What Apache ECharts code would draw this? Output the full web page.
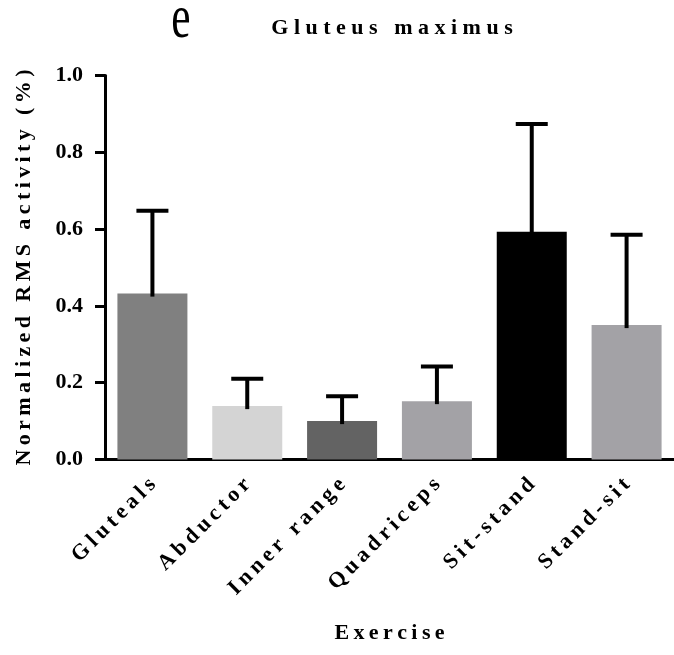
<!DOCTYPE html>
<html>
<head>
<meta charset="utf-8">
<script src="https://cdn.jsdelivr.net/npm/echarts@6/dist/echarts.min.js"></script>
<style>
  html, body { margin: 0; padding: 0; background: #fff; }
  #chart { width: 674px; height: 655px; }
</style>
</head>
<body>
<div id="chart"></div>
<script>
const categories = ["Gluteals", "Abductor", "Inner range", "Quadriceps", "Sit-stand", "Stand-sit"];
const means = [0.432, 0.139, 0.100, 0.152, 0.593, 0.350];
const sds = [0.216, 0.071, 0.065, 0.090, 0.281, 0.235];
const yTicks = [0, 0.2, 0.4, 0.6, 0.8, 1.0];
const barColors = ["#808080", "#d4d4d4", "#636363", "#a3a2a6", "#000000", "#a3a2a6"];

const FONT = "Liberation Serif";
// the reference text is spread out letter by letter
const spaced = (s, sep = "\u2009") => Array.from(s).join(sep);

const chart = echarts.init(document.getElementById("chart"));

chart.setOption({
  animation: false,
  backgroundColor: "#fff",
  graphic: [
    {
      type: "text",
      x: 181,
      y: 21,
      scaleX: 0.7,
      style: {
        text: "e",
        font: "normal 62px 'Liberation Serif'",
        fill: "#000",
        align: "center",
        verticalAlign: "middle",
      },
    },
    {
      type: "text",
      x: 392,
      y: 28,
      style: {
        text: spaced("Gluteus maximus", "\u2005"),
        font: `bold 22px '${FONT}'`,
        fill: "#000",
        align: "center",
        verticalAlign: "middle",
      },
    },
  ],
  grid: { left: 105, right: -5, top: 75.5, bottom: 195.5 },
  xAxis: {
    type: "category",
    data: categories,
    name: spaced("Exercise"),
    nameLocation: "middle",
    nameGap: 163,
    nameTextStyle: { fontFamily: FONT, fontWeight: "bold", fontSize: 22, color: "#000" },
    axisLine: { lineStyle: { color: "#000", width: 3 } },
    axisTick: { alignWithLabel: true, length: 10, lineStyle: { color: "#000", width: 3 } },
    axisLabel: {
      rotate: 45,
      margin: 22,
      fontFamily: FONT,
      fontWeight: "bold",
      fontSize: 22,
      color: "#000",
      formatter: (v) => spaced(v),
    },
  },
  yAxis: {
    type: "value",
    min: 0,
    max: 1,
    interval: 0.2,
    name: spaced("Normalized RMS activity (%)"),
    nameLocation: "middle",
    nameGap: 70,
    nameTextStyle: { fontFamily: FONT, fontWeight: "bold", fontSize: 22, color: "#000" },
    splitLine: { show: false },
    axisLine: { show: true, lineStyle: { color: "#000", width: 3 } },
    axisTick: { show: true, length: 10, lineStyle: { color: "#000", width: 3 } },
    axisLabel: {
      margin: 22,
      padding: [6, 0, 0, 0],
      fontFamily: FONT,
      fontWeight: "bold",
      fontSize: 22,
      color: "#000",
      customValues: yTicks,
      formatter: (v) => v.toFixed(1),
    },
  },
  series: [
    {
      type: "bar",
      barWidth: 70,
      data: means.map((m, i) => ({ value: m, itemStyle: { color: barColors[i] } })),
    },
    {
      type: "custom",
      z: 5,
      data: means.map((m, i) => [i, m, m + sds[i]]),
      renderItem(params, api) {
        const base = api.coord([api.value(0), api.value(1)]);
        const top = api.coord([api.value(0), api.value(2)]);
        const style = { stroke: "#000", lineWidth: 4 };
        return {
          type: "group",
          children: [
            { type: "line", shape: { x1: base[0], y1: base[1] + 3, x2: top[0], y2: top[1] }, style },
            { type: "line", shape: { x1: top[0] - 16, y1: top[1], x2: top[0] + 16, y2: top[1] }, style },
          ],
        };
      },
    },
  ],
});
</script>
</body>
</html>
